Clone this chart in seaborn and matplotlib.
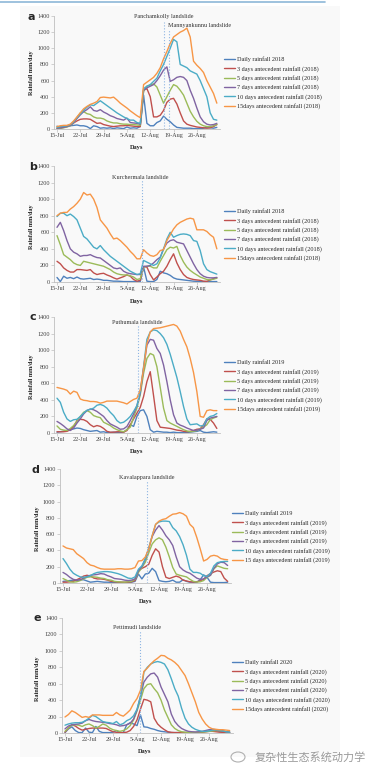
import numpy as np
import pandas as pd
import matplotlib
matplotlib.use('Agg')
import matplotlib.pyplot as plt
import seaborn as sns
from matplotlib.lines import Line2D
from matplotlib.patches import Rectangle

days = list(range(49))
tick_days = [0, 7, 14, 21, 28, 35, 42]
tick_labels = ['15-Jul', '22-Jul', '29-Jul', '5-Aug', '12-Aug', '19-Aug', '26-Aug']
windows = ['daily', '3', '5', '7', '10', '15']

# panel a - 2018
a_daily = [35, 5, 35, 40, 40, 45, 50, 40, 40, 30, 5, 40, 30, 10, 15, 10, 15, 5, 15, 10, 5, 25, 10, 15, 10, 30,
           420, 70, 40, 40, 80, 100, 160, 120, 90, 50, 20, 15, 10, 10, 10, 5, 5, 5, 10, 20, 15, 10, 20]
a_3d = [5, 10, 20, 30, 45, 75, 100, 120, 125, 125, 120, 95, 70, 75, 55, 45, 35, 30, 35, 40, 40, 45, 40, 35, 30, 30,
        480, 500, 400, 150, 150, 170, 230, 330, 370, 380, 310, 200, 100, 60, 45, 35, 25, 20, 15, 10, 15, 30, 55]
a_5d = [10, 12, 15, 25, 40, 80, 140, 200, 215, 190, 180, 150, 135, 135, 125, 100, 85, 75, 75, 65, 60, 60, 55, 55, 50, 45,
        470, 530, 545, 560, 520, 420, 320, 400, 480, 550, 530, 480, 420, 320, 220, 150, 95, 60, 40, 30, 30, 40, 55]
a_7d = [10, 15, 20, 30, 45, 80, 130, 175, 215, 240, 275, 230, 220, 240, 210, 190, 165, 150, 130, 120, 110, 135, 80, 75, 70, 60,
        480, 510, 530, 550, 600, 660, 730, 770, 590, 610, 640, 650, 640, 600, 480, 380, 260, 150, 90, 60, 50, 55, 70]
a_10d = [20, 30, 35, 40, 55, 90, 140, 185, 230, 270, 300, 290, 320, 350, 320, 290, 260, 230, 200, 175, 150, 130, 110, 110, 80, 70,
         500, 530, 550, 590, 630, 720, 800, 900, 1000, 1110, 1080, 800, 780, 760, 720, 700, 680, 600, 500, 400, 200, 120, 110]
a_15d = [30, 40, 45, 45, 60, 100, 150, 200, 250, 280, 305, 320, 340, 390, 395, 390, 385, 395, 360, 320, 290, 260, 225, 195, 165, 140,
         550, 580, 610, 640, 690, 760, 870, 960, 1060, 1140, 1170, 1200, 1220, 1250, 1140, 840, 790, 750, 700, 600, 520, 440, 320]

# panel b - 2018
b_daily = [55, 5, 70, 45, 55, 40, 60, 40, 35, 40, 45, 30, 35, 30, 20, 20, 15, 10, 10, 8, 5, 5, 5, 5, 3, 5,
           180, 10, 5, 5, 30, 130, 110, 100, 80, 50, 35, 30, 25, 20, 15, 10, 8, 5, 5, 5, 5, 5, 5]
b_3d = [250, 220, 170, 140, 120, 120, 150, 150, 145, 140, 150, 110, 90, 100, 105, 85, 70, 50, 35, 50, 65, 85, 70, 30, 10, 20,
        185, 180, 90, 25, 60, 100, 130, 190, 270, 340, 230, 150, 90, 55, 40, 30, 25, 20, 10, 8, 25, 40, 50]
b_5d = [560, 450, 330, 300, 270, 230, 210, 200, 250, 240, 230, 220, 210, 200, 190, 170, 150, 120, 100, 90, 85, 85, 75, 60, 30, 40,
        180, 190, 190, 170, 170, 250, 320, 390, 420, 410, 430, 320, 240, 180, 140, 110, 85, 60, 45, 30, 25, 35, 45]
b_7d = [660, 720, 620, 500, 400, 360, 340, 310, 320, 320, 330, 310, 295, 290, 260, 230, 200, 170, 160, 170, 130, 110, 100, 95, 90, 90,
        190, 190, 200, 230, 270, 300, 400, 470, 500, 510, 480, 470, 460, 380, 300, 220, 150, 100, 70, 55, 50, 50, 55]
b_10d = [790, 830, 830, 800, 820, 790, 750, 650, 550, 520, 470, 420, 400, 440, 390, 350, 310, 280, 250, 220, 190, 160, 130, 110, 90, 100,
         260, 240, 220, 200, 220, 290, 400, 520, 600, 540, 560, 575, 580, 575, 560, 500, 490, 380, 220, 150, 125, 110, 95]
b_15d = [800, 830, 840, 840, 880, 910, 950, 1000, 1080, 1050, 1060, 1000, 900, 750, 700, 650, 580, 520, 530, 500, 460, 420, 370, 330, 280, 280,
         390, 350, 320, 310, 330, 380, 390, 500, 570, 640, 690, 720, 740, 760, 770, 760, 630, 630, 630, 610, 570, 540, 400]

# panel c - 2019
c_daily = [10, 15, 20, 30, 40, 50, 60, 55, 40, 30, 20, 25, 30, 10, 15, 5, 5, 10, 5, 5, 10, 40, 100, 80, 200, 270,
           280, 200, 40, 10, 20, 15, 10, 10, 5, 10, 5, 5, 5, 5, 10, 15, 20, 30, 10, 5, 10, 15, 10]
c_3d = [15, 15, 15, 20, 40, 80, 150, 165, 160, 140, 100, 75, 90, 80, 55, 20, 10, 10, 15, 15, 10, 30, 100, 170, 240, 310,
        440, 620, 740, 450, 150, 70, 65, 60, 55, 45, 35, 30, 20, 15, 20, 30, 45, 50, 100, 170, 165, 120, 55]
c_5d = [85, 45, 35, 30, 55, 90, 140, 200, 250, 270, 250, 210, 195, 185, 130, 110, 90, 60, 40, 25, 15, 40, 70, 190, 300, 460,
        720, 900, 960, 940, 800, 550, 300, 150, 120, 100, 80, 60, 40, 25, 15, 20, 30, 50, 70, 100, 160, 180, 195]
c_7d = [140, 115, 85, 50, 30, 60, 120, 170, 230, 270, 290, 280, 260, 230, 200, 150, 110, 90, 70, 45, 50, 80, 150, 230, 330, 480,
        780, 1060, 1130, 1120, 1020, 960, 820, 620, 400, 220, 120, 95, 80, 60, 45, 30, 35, 45, 60, 150, 180, 190, 200]
c_10d = [420, 370, 250, 170, 140, 160, 165, 200, 240, 275, 285, 300, 335, 345, 330, 300, 250, 210, 150, 120, 130, 160, 200, 260, 330, 500,
         800, 1130, 1220, 1245, 1235, 1200, 1150, 1070, 950, 810, 670, 500, 320, 170, 100, 105, 110, 85, 90, 170, 200, 210, 235]
c_15d = [550, 540, 530, 515, 470, 505, 490, 410, 395, 390, 380, 380, 375, 360, 370, 385, 385, 385, 385, 375, 365, 350, 380, 405, 420, 520,
         780, 1080, 1220, 1260, 1265, 1270, 1280, 1290, 1300, 1310, 1290, 1230, 1130, 1040, 900, 730, 500, 200, 190, 270, 280, 270, 270]

# panel d - 2019
d_daily = [20, 25, 30, 35, 30, 40, 40, 25, 10, 15, 20, 15, 10, 10, 8, 5, 5, 5, 5, 8, 10, 20, 110, 50, 110, 120,
           180, 140, 30, 20, 15, 20, 35, 10, 10, 40, 20, 10, 10, 10, 40, 100, 70, 10, 5, 5, 5, 5, 10]
d_3d = [10, 10, 15, 20, 40, 60, 85, 95, 85, 60, 50, 50, 45, 35, 20, 15, 12, 10, 10, 10, 15, 30, 150, 180, 200, 230,
        340, 420, 380, 200, 70, 55, 70, 85, 70, 35, 25, 15, 12, 15, 25, 45, 90, 115, 135, 150, 140, 60, 20]
d_5d = [55, 35, 15, 10, 15, 30, 50, 70, 75, 75, 70, 60, 55, 40, 35, 20, 15, 12, 10, 15, 20, 45, 130, 190, 255, 370,
        480, 530, 555, 530, 440, 320, 190, 110, 95, 85, 75, 45, 20, 12, 15, 30, 70, 95, 175, 210, 195, 180, 175]
d_7d = [130, 105, 70, 45, 35, 40, 60, 80, 95, 100, 105, 115, 110, 90, 75, 55, 50, 45, 35, 30, 35, 50, 150, 200, 290, 420,
        570, 650, 705, 650, 580, 530, 460, 320, 200, 160, 135, 120, 90, 60, 45, 50, 75, 95, 180, 235, 255, 250, 215]
d_10d = [300, 240, 170, 120, 95, 75, 70, 75, 90, 115, 130, 135, 140, 140, 135, 125, 115, 100, 80, 60, 55, 75, 170, 210, 300, 430,
         580, 720, 750, 760, 760, 755, 680, 640, 570, 470, 340, 170, 130, 130, 120, 90, 80, 120, 210, 250, 260, 265, 265]
d_15d = [455, 430, 420, 410, 360, 330, 300, 250, 220, 210, 190, 175, 170, 170, 170, 170, 175, 175, 170, 170, 175, 190, 270, 275, 320, 420,
         580, 720, 760, 780, 790, 820, 845, 850, 865, 850, 820, 720, 680, 560, 420, 270, 290, 330, 340, 330, 300, 290, 285]

# panel e - 2020
e_daily = [5, 50, 75, 30, 5, 5, 60, 10, 5, 80, 20, 5, 5, 5, 10, 30, 5, 5, 100, 125, 110, 90, 220, 75, 70, 55,
           45, 30, 20, 15, 10, 5, 5, 5, 5, 5, 5, 5, 5, 5, 15, 20, 20, 25, 25, 20, 20, 15, 10]
e_3d = [10, 60, 100, 85, 55, 35, 45, 55, 60, 60, 60, 60, 55, 35, 15, 8, 5, 5, 10, 30, 80, 160, 290, 410, 400, 380,
        180, 110, 70, 40, 15, 8, 5, 5, 5, 5, 5, 5, 5, 5, 8, 15, 20, 20, 15, 10, 8, 5, 5]
e_5d = [20, 60, 95, 100, 95, 80, 100, 110, 90, 60, 80, 110, 95, 60, 40, 30, 20, 30, 50, 90, 160, 270, 400, 540, 590, 600,
        540, 490, 400, 280, 190, 100, 55, 30, 15, 10, 8, 8, 8, 10, 12, 15, 20, 25, 30, 30, 25, 15, 10]
e_7d = [50, 85, 100, 105, 110, 120, 150, 165, 150, 140, 135, 130, 125, 115, 110, 100, 85, 90, 100, 120, 170, 280, 450, 620, 680, 720,
        730, 680, 560, 470, 380, 230, 140, 90, 55, 35, 20, 15, 12, 15, 20, 30, 40, 45, 40, 35, 25, 15, 10]
e_10d = [95, 110, 120, 125, 125, 130, 150, 180, 215, 200, 170, 140, 130, 125, 115, 140, 100, 115, 150, 170, 210, 290, 440, 740, 800, 840,
         860, 870, 860, 840, 770, 660, 540, 450, 300, 180, 110, 70, 45, 30, 20, 20, 25, 35, 40, 35, 25, 15, 10]
e_15d = [195, 225, 270, 250, 220, 190, 200, 190, 220, 220, 220, 215, 215, 215, 215, 250, 220, 205, 240, 280, 360, 420, 520, 750, 790, 840,
         880, 910, 945, 940, 910, 890, 860, 820, 760, 700, 600, 490, 380, 250, 170, 110, 70, 50, 45, 40, 40, 35, 30]

panels = [
    ('a', '2018', [a_daily, a_3d, a_5d, a_7d, a_10d, a_15d], '15days'),
    ('b', '2018', [b_daily, b_3d, b_5d, b_7d, b_10d, b_15d], '15days'),
    ('c', '2019', [c_daily, c_3d, c_5d, c_7d, c_10d, c_15d], '15days'),
    ('d', '2019', [d_daily, d_3d, d_5d, d_7d, d_10d, d_15d], '15 days'),
    ('e', '2020', [e_daily, e_3d, e_5d, e_7d, e_10d, e_15d], '15days'),
]

# landslide markers: (day, label, line top, text x, text y, text align)
events = {
    'a': [(32.2, 'Panchamkolly landslide', 1330, 32.2, 1390, 'center'),
          (33.7, 'Mannyankunnu landslide', 1240, 33.2, 1285, 'left')],
    'b': [(25.4, 'Kurchermala landslide', 1235, 25.0, 1265, 'center')],
    'c': [(24.4, 'Puthumala landslide', 1300, 24.2, 1330, 'center')],
    'd': [(24.6, 'Kavalappara landslide', 1260, 24.4, 1295, 'center')],
    'e': [(21.8, 'Pettimudi landslide', 1250, 20.9, 1287, 'center')],
}

# layout in pixels: x of day 0, px per day, y of 1400, y of 0, legend x, legend centre y,
# letter x, letter y, ylabel x, ylabel y, Days x, Days y
geom = {
    'a': (57, 3.33, 16, 129, 224, 83, 27, 17, 31, 73, 137, 148),
    'b': (57, 3.33, 166, 282, 224, 235, 29, 167, 31, 227, 137, 302),
    'c': (57, 3.33, 317, 433, 224, 386, 29, 317, 31, 377, 137, 452),
    'd': (63, 3.43, 469, 583, 232, 537, 31, 470, 38, 529, 146, 602),
    'e': (65, 3.43, 618, 733, 232, 686, 33, 618, 38, 679, 145, 752),
}

colors = ['#4F81BD', '#C0504D', '#9BBB59', '#8064A2', '#4BACC6', '#F79646']

W, H = 377, 774
sns.set_theme(style='white')
plt.rcParams['font.family'] = ['Liberation Serif', 'DejaVu Serif']
fig = plt.figure(figsize=(W / 100, H / 100), dpi=100)
fig.patch.set_facecolor('white')

fig.add_artist(Rectangle((20 / W, 1 - 757 / H), 320 / W, 751 / H, transform=fig.transFigure,
                         facecolor='#F9F9F9', edgecolor='none', zorder=-5))
fig.add_artist(Line2D([0, 325 / W], [1 - 2 / H, 1 - 2 / H], transform=fig.transFigure,
                      color='#8DB8D8', lw=1.2))

for letter, year, series, fifteen in panels:
    x0, ppd, ytop, ybot, lgx, lgy, ltx, lty, ylx, yly, dx, dy = geom[letter]
    left = x0 - ppd
    width = 50 * ppd
    ax = fig.add_axes([left / W, 1 - ybot / H, width / W, (ybot - ytop) / H])
    ax.set_facecolor('none')

    names = ['Daily rainfall ' + year] + \
            ['%s days antecedent rainfall (%s)' % (w, year) for w in windows[1:5]] + \
            ['%s antecedent rainfall (%s)' % (fifteen, year)]
    df = pd.DataFrame({
        'day': days * 6,
        'value': [v for s in series for v in s],
        'series': [n for n in names for _ in days],
    })
    sns.lineplot(data=df, x='day', y='value', hue='series', hue_order=names,
                 palette=colors, linewidth=1.0, ax=ax, legend=False)

    for day, label, top, tx, ty, ha in events[letter]:
        ax.vlines(day, 0, top, colors='#8DB4E2', linestyles=':', linewidth=0.8)
        ax.text(tx, ty, label, ha=ha, va='center', fontsize=4.4, color='#333333', clip_on=False)

    ax.set_xlim(-1, 49)
    ax.set_ylim(0, 1400)
    ax.set_yticks(range(0, 1401, 200))
    ax.set_xticks(tick_days)
    ax.set_xticklabels(tick_labels)
    ax.set_xlabel('')
    ax.set_ylabel('')
    ax.tick_params(labelsize=4.4, labelcolor='#404040', color='#BFBFBF',
                   length=2, width=0.5, pad=1, left=True, bottom=True)
    for side in ['top', 'right']:
        ax.spines[side].set_visible(False)
    for side in ['left', 'bottom']:
        ax.spines[side].set_color('#BFBFBF')
        ax.spines[side].set_linewidth(0.6)

    handles = ax.get_lines()[:6]
    ax.legend(handles, names, loc='center left', bbox_to_anchor=(lgx / W, 1 - lgy / H),
              bbox_transform=fig.transFigure, frameon=False, fontsize=4.4,
              handlelength=1.8, handletextpad=0.3, labelspacing=0.55, borderpad=0, borderaxespad=0)

    fig.text(ltx / W, 1 - lty / H, letter, fontsize=8, fontweight='bold',
             family='DejaVu Sans', ha='left', va='center')
    fig.text(ylx / W, 1 - yly / H, 'Rainfall mm/day', rotation=90, fontsize=4.4,
             fontweight='bold', ha='center', va='center', color='#222222')
    fig.text(dx / W, 1 - dy / H, 'Days', fontsize=4.6, fontweight='bold',
             ha='center', va='center', color='#222222')

fig.text(255 / W, 1 - 757 / H, '复杂性生态系统动力学', fontsize=8, color='#9A9A9A',
         family=['Noto Sans CJK SC', 'DejaVu Sans'], ha='left', va='center')
fig.add_artist(matplotlib.patches.Ellipse((238 / W, 1 - 757 / H), 14 / W, 10 / H,
                                          transform=fig.transFigure, facecolor='none',
                                          edgecolor='#B0B0B0', lw=0.8))

fig.savefig('out.png', dpi=100, facecolor='white')
